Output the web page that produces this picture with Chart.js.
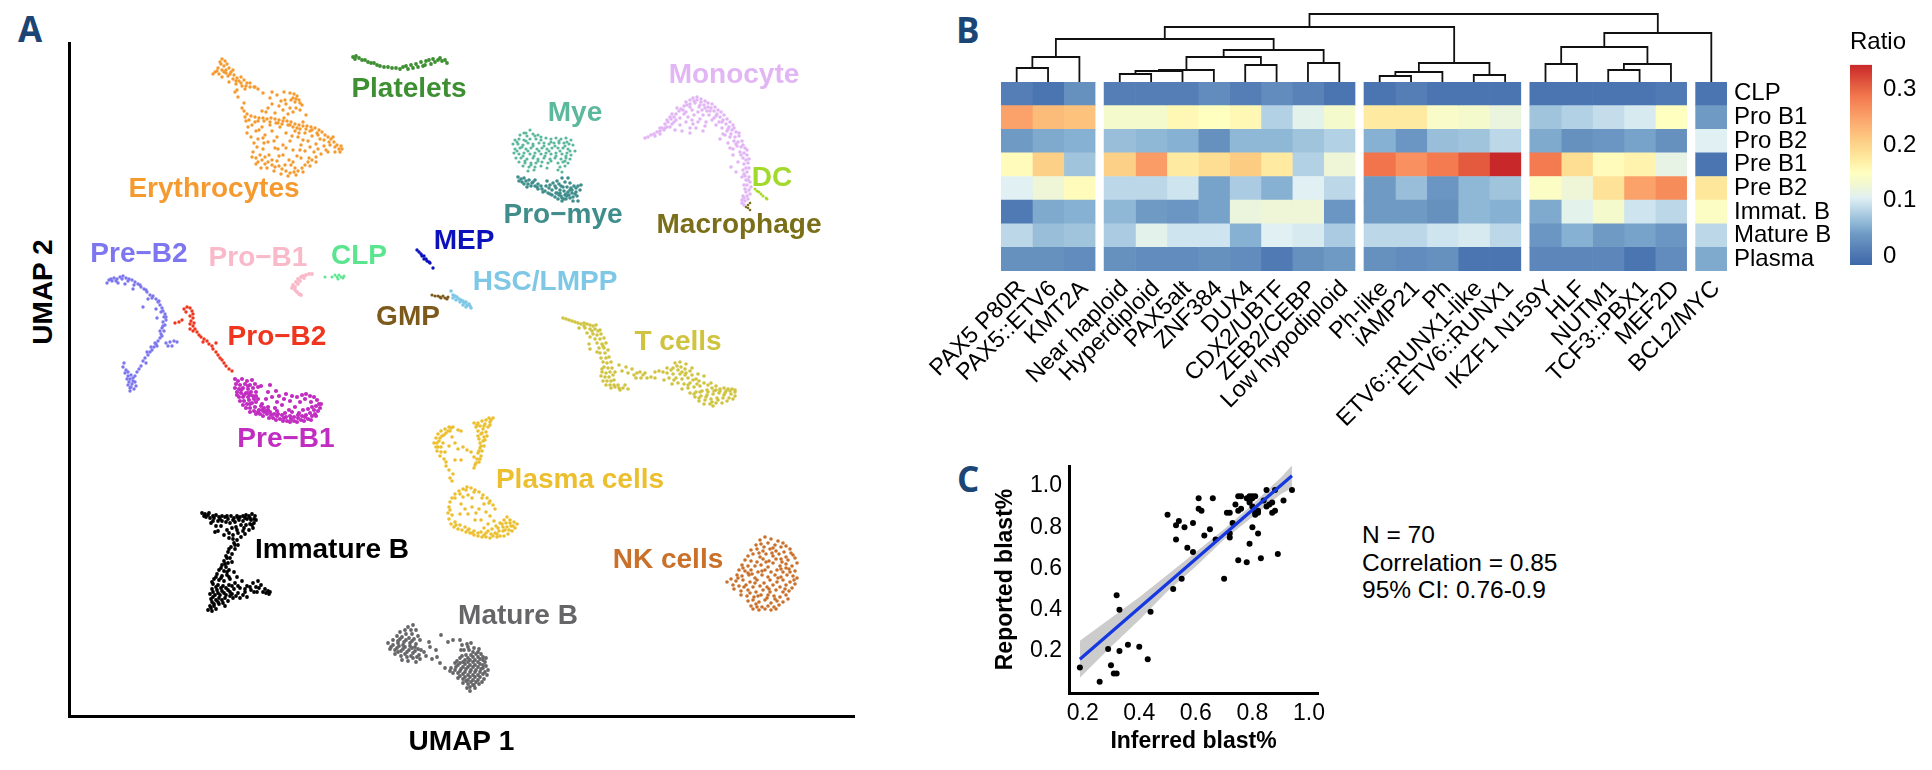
<!DOCTYPE html>
<html>
<head>
<meta charset="utf-8">
<title>UMAP, subtype heatmap and blast correlation</title>
<script src="https://cdn.jsdelivr.net/npm/chart.js@4/dist/chart.umd.min.js"></script>
<style>
  html, body { margin: 0; background: #fff; overflow: hidden; }
  canvas { position: absolute; left: 0; top: 0; }
  .note { position: absolute; font-family: "Liberation Sans", Arial, sans-serif; color: #000; white-space: nowrap; }
  .panel { font: bold 35px "Open Sans", sans-serif; color: #1b4574; line-height: 1; }
</style>
</head>
<body>
<div class="note panel" style="left:18px;top:11px">A</div>
<div class="note panel" style="left:956px;top:12px">B</div>
<div class="note panel" style="left:957px;top:461px">C</div>
<div class="note" style="left:43px;top:292px;font-weight:bold;font-size:28px;transform:translate(-50%,-50%) rotate(-90deg)">UMAP 2</div>
<div class="note" style="left:1362px;top:521px;font-size:24.5px;line-height:27.5px">N = 70<br>Correlation = 0.85<br>95% CI: 0.76-0.9</div>

<canvas id="umap" width="1932" height="770"></canvas>
<canvas id="dendro" width="1932" height="770"></canvas>
<canvas id="heat" width="1932" height="770"></canvas>
<canvas id="colorbar" width="1932" height="770"></canvas>
<canvas id="blast" width="1932" height="770"></canvas>

<script>
"use strict";

// Panel A: the UMAP has no ticks, so cells are kept in the units read off the picture
const erythrocytes = [[222,59],[225,61],[220,62],[227,64],[224,66],[218,68],[229,68],[222,70],[215,72],[213,74],[219,74],[226,73],[231,72],[234,75],[228,76],[222,77],[237,78],[241,77],[233,79],[239,81],[244,80],[229,82],[247,83],[236,84],[250,83],[242,86],[255,87],[237,90],[254,87],[258,89],[235,92],[238,97],[245,89],[263,93],[272,92],[277,95],[281,101],[272,104],[279,106],[268,108],[283,110],[275,113],[290,108],[270,98],[288,114],[300,110],[302,105],[294,94],[297,96],[293,98],[296,99],[299,100],[291,100],[295,102],[300,103],[242,108],[244,111],[247,114],[251,116],[255,117],[259,118],[263,118],[267,119],[271,118],[275,119],[279,120],[283,121],[287,121],[291,122],[295,124],[299,125],[303,126],[307,126],[311,127],[315,128],[319,130],[322,132],[325,135],[328,137],[331,139],[334,142],[337,145],[341,146],[339,149],[335,147],[342,149],[333,137],[329,142],[303,122],[284,118],[297,128],[290,125],[278,123],[310,131],[317,133],[306,115],[246,121],[248,127],[252,125],[247,133],[251,137],[256,131],[254,143],[258,139],[262,127],[265,135],[270,125],[268,142],[272,131],[277,137],[280,127],[283,145],[286,133],[290,141],[295,131],[293,150],[298,137],[301,145],[305,133],[308,141],[312,136],[316,144],[320,139],[324,146],[314,152],[305,151],[297,156],[309,158],[275,148],[263,149],[269,155],[283,155],[289,160],[253,152],[252,157],[256,158],[258,162],[262,160],[265,164],[268,162],[272,165],[275,167],[279,166],[282,169],[286,171],[290,173],[294,172],[298,171],[295,168],[302,168],[305,165],[308,162],[312,160],[316,157],[260,155],[277,161],[291,165],[221,64],[217,71],[224,72],[233,70],[236,81],[241,83],[226,70],[230,74],[246,86],[250,87],[258,121],[264,121],[270,122],[276,123],[282,124],[288,125],[293,127],[300,129],[306,129],[312,130],[318,135],[324,140],[330,145],[335,152],[326,150],[340,152],[245,117],[249,120],[255,122],[259,130],[263,138],[257,147],[264,143],[274,141],[278,149],[286,148],[292,136],[299,133],[303,140],[310,147],[318,149],[300,150],[301,158],[293,162],[285,165],[279,156],[272,160],[265,157],[256,164],[261,168],[267,168],[274,171],[281,174],[288,176],[296,175],[303,172],[310,166],[316,162],[321,154],[328,152],[244,103],[285,100],[284,92],[290,93],[286,104],[296,108],[293,112],[266,112],[262,111]];
const platelets = [[353,57],[356,56],[355,59],[359,58],[362,60],[365,60],[368,62],[371,63],[374,63],[377,65],[380,66],[384,67],[388,67],[392,68],[396,68],[400,69],[403,67],[406,66],[408,69],[411,65],[413,68],[416,64],[418,67],[421,62],[423,66],[426,61],[425,65],[429,60],[431,64],[433,59],[435,62],[438,60],[440,58],[442,61],[445,60],[447,63]];
const preB2 = [[107,283],[109,280],[112,281],[114,278],[117,279],[120,277],[123,276],[126,278],[129,279],[132,280],[135,282],[138,284],[141,287],[144,289],[147,292],[150,295],[153,296],[156,299],[158,302],[160,305],[162,308],[163,311],[165,314],[164,317],[166,320],[163,322],[165,325],[162,328],[164,331],[161,334],[160,338],[158,341],[156,344],[154,347],[157,346],[152,350],[150,352],[148,355],[145,358],[143,361],[146,363],[141,366],[139,369],[137,372],[135,376],[124,363],[123,367],[126,370],[125,373],[128,376],[130,379],[127,379],[133,378],[129,382],[132,384],[135,382],[131,387],[134,389],[130,391],[136,386],[118,283],[125,284],[133,289],[143,307],[148,299],[156,309],[170,342],[174,341],[177,342],[168,346],[172,346],[166,343],[157,318],[166,317],[163,326],[160,331],[162,336],[155,343],[151,347],[147,352],[128,372],[131,375],[128,385],[133,381],[130,388],[111,279],[116,281],[122,279],[128,281],[134,285],[140,285],[146,290],[152,298],[159,301],[161,312]];
const proB2 = [[175,323],[179,322],[182,320],[184,309],[187,307],[190,308],[192,311],[186,312],[193,314],[190,316],[193,318],[191,321],[194,323],[190,324],[193,326],[190,329],[195,329],[197,332],[193,331],[199,335],[201,337],[204,339],[203,342],[207,341],[209,344],[212,346],[216,343],[213,349],[216,352],[218,355],[220,358],[222,360],[224,363],[226,366],[229,369],[232,371]];
const preB1 = [[235,379],[238,381],[242,379],[247,381],[252,380],[236,384],[240,385],[245,384],[250,385],[255,384],[235,388],[239,389],[243,388],[248,389],[253,388],[258,387],[237,392],[241,393],[246,393],[251,392],[256,392],[239,397],[243,397],[248,397],[253,396],[240,401],[244,401],[249,400],[243,405],[247,404],[252,403],[246,408],[250,408],[255,407],[250,412],[254,411],[259,410],[256,414],[260,414],[264,412],[263,416],[267,414],[271,415],[269,418],[273,418],[277,416],[276,420],[280,419],[284,418],[283,421],[287,421],[291,419],[290,422],[294,421],[298,418],[297,422],[301,420],[305,417],[304,421],[308,419],[312,416],[311,420],[315,414],[318,411],[316,416],[320,408],[319,404],[317,400],[321,404],[314,397],[311,402],[310,396],[306,394],[305,399],[308,409],[302,395],[300,402],[303,410],[297,397],[295,407],[299,413],[292,396],[290,401],[289,410],[286,394],[284,399],[282,405],[285,413],[279,396],[277,402],[275,408],[272,397],[268,392],[266,399],[261,386],[270,385],[276,391],[262,404],[268,407],[258,412],[262,410],[266,411],[270,412],[274,414],[278,414],[282,415],[286,417],[290,416],[294,417],[298,415],[302,416],[306,415],[310,413],[314,410],[316,406],[312,407],[241,390],[237,395],[242,389],[248,386],[244,395],[250,395],[256,396],[248,393],[254,399],[258,399],[250,404],[256,402],[261,406],[264,408],[268,410],[277,411],[292,412]];
const proB1 = [[312,274],[309,274],[306,275],[303,276],[301,277],[304,278],[298,279],[300,281],[296,282],[298,284],[293,285],[295,287],[292,288],[295,290],[297,292],[299,294],[301,295]];
const clp = [[325,277],[332,277],[335,275],[337,277],[339,275],[341,277],[343,278],[338,279],[344,276]];
const mep = [[417,250],[419,252],[421,254],[422,256],[424,256],[424,259],[426,259],[427,261],[429,262],[430,263],[433,268]];
const hscLmpp = [[451,291],[453,295],[455,296],[453,298],[457,297],[459,299],[456,300],[461,300],[463,301],[460,302],[464,303],[466,302],[463,305],[467,305],[469,304],[470,306],[466,307],[471,308]];
const gmp = [[432,295],[435,296],[438,296],[440,297],[443,296],[441,298],[445,298],[448,297],[447,299]];
const mye = [[530,130],[524,133],[520,135],[527,136],[533,134],[538,135],[515,140],[519,139],[524,140],[530,139],[536,139],[541,137],[546,138],[551,139],[556,138],[561,139],[566,138],[571,140],[513,144],[518,144],[523,145],[528,143],[533,144],[539,143],[544,143],[549,144],[554,143],[559,143],[564,143],[569,144],[573,145],[515,149],[520,148],[526,149],[531,148],[537,149],[542,148],[547,149],[552,148],[558,148],[563,148],[568,149],[575,151],[514,153],[519,154],[524,153],[530,154],[535,153],[541,154],[546,153],[551,154],[556,153],[562,154],[567,153],[571,155],[516,158],[521,158],[527,159],[533,158],[538,159],[544,158],[550,159],[555,158],[561,159],[566,158],[570,159],[519,162],[525,163],[531,163],[536,163],[542,162],[548,163],[558,163],[563,162],[568,163],[523,166],[529,167],[535,167],[541,166],[547,168],[560,167],[565,166],[528,171],[534,170],[558,170],[562,172],[526,133],[535,136],[517,142],[526,141],[541,140],[551,142],[559,141],[567,142],[522,147],[533,146],[544,146],[555,146],[565,146],[517,151],[528,151],[539,151],[549,151],[560,151],[570,151],[523,156],[534,156],[545,156],[556,156],[566,156],[525,161],[538,161],[551,161],[565,161],[531,165]];
const proMye = [[518,177],[521,179],[519,181],[524,178],[526,181],[529,180],[524,184],[528,184],[532,183],[535,180],[531,186],[535,186],[538,184],[541,186],[538,189],[542,189],[546,186],[545,191],[549,188],[548,193],[552,190],[552,195],[556,193],[555,197],[559,195],[558,199],[562,198],[562,201],[566,199],[565,195],[560,190],[564,191],[568,192],[563,187],[567,187],[571,188],[569,195],[572,193],[576,192],[573,197],[577,196],[580,190],[574,186],[578,186],[581,185],[570,183],[565,182],[559,184],[562,178],[557,181],[568,178],[553,183],[547,181],[578,201],[570,190],[560,193],[566,194],[556,188],[522,182],[533,182],[527,187],[537,187],[543,192],[550,194],[557,193],[561,196],[567,196],[564,199],[570,198],[575,194],[572,190],[576,188],[561,186],[555,186],[550,185],[573,201]];
const monocyte = [[645,138],[648,137],[651,135],[654,134],[657,132],[660,131],[662,128],[664,130],[667,127],[665,124],[668,122],[671,119],[670,117],[674,117],[672,114],[676,114],[679,111],[677,108],[681,109],[684,106],[683,110],[687,105],[686,102],[690,104],[690,100],[694,101],[693,98],[697,100],[697,97],[701,99],[701,102],[700,105],[705,101],[704,105],[708,103],[708,107],[712,104],[711,108],[707,111],[715,107],[714,111],[718,110],[717,114],[721,112],[720,117],[724,115],[723,120],[727,119],[726,124],[730,122],[729,127],[733,125],[732,130],[736,132],[731,134],[735,137],[739,136],[734,141],[738,142],[742,141],[737,146],[741,147],[745,148],[740,152],[744,153],[747,155],[743,158],[746,160],[744,164],[748,163],[746,168],[743,170],[747,172],[745,176],[749,177],[746,180],[750,182],[747,185],[751,187],[749,190],[746,192],[750,194],[747,196],[744,198],[742,200],[745,201],[742,203],[744,205],[667,120],[674,122],[680,118],[686,112],[692,110],[698,112],[703,115],[680,125],[686,122],[692,120],[698,122],[706,122],[670,127],[675,130],[682,131],[690,128],[696,128],[703,131],[690,133],[712,120],[716,125],[722,128],[725,135],[720,139],[728,143],[733,155],[730,148],[738,162],[731,167],[736,172],[695,103],[699,107],[705,108],[710,111],[716,116],[722,122],[728,129],[734,128],[739,133],[730,137],[736,144],[743,145],[747,150],[741,155],[749,159],[749,168],[744,174],[742,177],[748,180],[744,185],[745,189],[748,199],[743,196],[676,120],[672,124],[665,128],[660,128],[655,136],[684,114],[690,107],[702,110],[694,115],[688,117],[709,115],[714,118],[719,122],[727,131],[723,134],[733,149],[693,124],[700,119],[705,126],[660,134]];
const dc = [[755,189],[757,191],[759,192],[761,194],[763,196],[766,198],[767,199]];
const macrophage = [[746,207],[748,205],[750,203],[748,208],[750,210]];
const tCells = [[563,318],[566,319],[569,320],[572,321],[575,322],[578,323],[581,324],[584,323],[587,324],[590,325],[593,326],[596,325],[579,328],[585,328],[590,329],[595,329],[598,331],[593,334],[597,335],[601,334],[587,333],[590,337],[595,339],[600,339],[604,338],[589,344],[597,343],[602,344],[606,343],[590,349],[599,348],[604,348],[600,353],[605,353],[601,358],[606,358],[609,357],[603,362],[607,363],[611,362],[604,367],[608,368],[612,368],[602,372],[606,373],[610,372],[601,376],[605,377],[609,377],[603,381],[607,381],[611,381],[606,385],[610,385],[614,385],[611,388],[615,387],[619,388],[623,388],[618,385],[628,389],[615,372],[619,365],[622,371],[626,367],[628,373],[632,369],[634,375],[637,373],[640,372],[643,375],[645,373],[641,378],[636,378],[647,378],[651,377],[655,378],[655,372],[659,371],[663,372],[667,373],[671,370],[667,368],[673,368],[677,366],[681,367],[685,369],[678,370],[673,374],[680,374],[686,373],[690,371],[692,375],[688,378],[682,379],[676,378],[669,378],[664,380],[672,384],[678,383],[684,384],[690,383],[696,379],[699,381],[682,389],[688,388],[694,387],[700,386],[704,383],[708,385],[690,393],[696,392],[702,391],[707,390],[712,388],[716,390],[720,389],[724,388],[728,389],[732,389],[735,392],[695,397],[701,396],[707,395],[713,394],[719,393],[725,393],[731,394],[735,396],[699,401],[705,400],[711,399],[717,398],[723,398],[729,398],[733,399],[704,404],[710,404],[716,403],[722,403],[713,406],[727,401],[584,326],[592,331],[600,330],[603,346],[597,352],[608,350],[602,369],[613,375],[614,380],[620,390],[625,385],[675,363],[680,362],[686,364],[692,368],[698,374],[674,380],[685,375],[693,380],[697,384],[704,376],[711,383],[716,386],[700,392],[706,397],[712,402],[718,400],[724,395],[730,391],[735,390],[708,392],[714,391],[720,391],[726,391],[699,398],[694,394],[688,385],[682,372]];
const plasmaCells = [[434,443],[436,438],[438,434],[441,431],[445,429],[449,427],[453,427],[436,447],[439,441],[442,436],[446,433],[450,431],[437,451],[441,447],[440,456],[445,452],[444,459],[449,446],[452,437],[458,430],[461,431],[455,443],[458,449],[446,462],[493,418],[489,418],[486,420],[482,421],[478,423],[474,423],[490,422],[485,424],[480,426],[476,427],[488,427],[483,429],[478,431],[486,432],[481,434],[484,437],[479,439],[487,436],[483,441],[480,443],[484,446],[480,448],[482,451],[478,453],[481,456],[477,459],[479,462],[475,465],[474,468],[467,450],[471,452],[463,447],[474,457],[455,460],[461,460],[446,466],[449,470],[453,474],[450,478],[452,481],[450,502],[452,498],[455,494],[459,491],[463,489],[467,487],[471,488],[475,490],[479,492],[483,495],[487,498],[490,501],[493,505],[495,509],[449,507],[448,513],[449,519],[451,524],[454,527],[458,529],[462,530],[466,532],[470,533],[474,535],[478,536],[482,537],[486,537],[490,538],[455,522],[460,525],[465,527],[469,529],[474,531],[463,497],[461,504],[468,495],[472,498],[465,509],[472,507],[468,514],[476,513],[460,514],[484,504],[479,509],[481,520],[475,520],[497,537],[500,536],[504,536],[508,534],[512,531],[515,528],[517,524],[514,522],[510,520],[507,517],[504,520],[500,523],[496,526],[492,529],[488,531],[484,528],[488,524],[494,521],[490,516],[486,512],[503,527],[507,527],[511,526],[499,531],[503,531],[495,533],[491,534],[486,533],[481,532],[498,528],[502,524],[506,523],[510,523],[513,526],[505,530],[509,530],[497,534],[493,536],[484,535],[478,533],[472,533],[468,530],[456,525],[452,515],[450,510],[455,498],[460,494],[466,490],[474,492],[482,498],[489,503],[491,420],[484,426],[477,425],[490,425],[482,433],[478,436],[485,440],[481,446],[479,451],[480,459],[476,463],[437,443],[440,438],[444,435],[448,431],[451,428],[438,447],[443,443],[441,452]];
const immatureB = [[202,513],[205,514],[208,515],[206,517],[210,518],[213,516],[216,515],[219,517],[222,516],[225,517],[228,519],[231,516],[234,518],[237,516],[240,517],[243,516],[246,515],[249,516],[252,514],[255,516],[254,519],[251,520],[247,519],[243,521],[239,520],[235,522],[230,523],[226,522],[222,521],[218,521],[213,521],[211,523],[216,526],[221,526],[254,523],[250,524],[246,525],[241,525],[236,527],[232,528],[227,530],[218,531],[224,535],[215,532],[253,528],[249,530],[243,531],[238,533],[233,535],[229,538],[245,534],[241,537],[237,540],[234,543],[238,545],[231,547],[235,549],[228,552],[232,554],[226,556],[230,558],[224,561],[228,563],[222,565],[226,567],[232,562],[219,570],[224,571],[229,570],[217,574],[222,576],[227,575],[234,572],[214,579],[219,580],[224,581],[230,579],[237,577],[213,584],[218,585],[223,586],[229,585],[235,583],[242,581],[212,589],[217,590],[222,591],[228,590],[234,589],[240,588],[247,586],[253,583],[258,581],[210,594],[215,595],[220,595],[226,595],[232,594],[238,593],[245,592],[251,590],[256,587],[261,585],[265,589],[268,591],[270,592],[263,592],[257,592],[247,597],[240,598],[233,598],[211,599],[216,600],[222,600],[228,601],[214,604],[219,604],[225,606],[211,608],[208,610],[212,611],[216,609],[204,516],[209,513],[214,518],[220,519],[227,516],[233,520],[238,518],[245,518],[250,518],[256,520],[252,525],[244,528],[237,530],[229,533],[233,539],[235,545],[229,549],[227,558],[225,564],[221,568],[227,572],[216,577],[221,578],[229,577],[212,582],[216,587],[221,588],[226,588],[232,586],[238,586],[245,589],[250,587],[254,592],[259,588],[266,593],[269,594],[213,592],[218,593],[224,593],[230,592],[236,596],[243,595],[213,597],[219,598],[225,598],[230,596],[212,602],[218,602],[223,603],[210,606],[214,606]];
const matureB = [[413,625],[408,627],[405,630],[411,630],[416,630],[400,632],[406,634],[412,634],[418,636],[397,636],[402,637],[409,638],[414,639],[420,640],[393,640],[398,641],[404,642],[410,643],[416,644],[388,643],[393,645],[399,646],[405,647],[412,648],[418,649],[424,652],[390,649],[395,650],[401,651],[407,652],[413,653],[419,655],[426,656],[395,654],[401,656],[407,657],[413,658],[420,659],[402,660],[408,661],[416,662],[429,642],[436,650],[441,635],[448,642],[453,640],[432,659],[440,663],[445,668],[450,671],[437,657],[430,647],[460,640],[462,645],[467,644],[471,643],[464,650],[469,650],[474,648],[479,649],[466,655],[471,655],[476,654],[481,654],[486,658],[460,658],[465,660],[470,660],[475,660],[480,659],[485,662],[455,663],[460,663],[465,664],[470,665],[475,665],[480,664],[486,666],[451,668],[456,667],[461,669],[466,669],[471,670],[476,670],[481,669],[488,670],[453,673],[458,673],[463,674],[468,675],[473,675],[478,675],[483,674],[487,675],[458,678],[463,679],[468,680],[473,680],[478,680],[484,679],[463,683],[468,684],[473,685],[479,684],[467,688],[470,691],[475,688],[398,643],[403,645],[410,646],[415,647],[391,647],[397,648],[403,649],[409,650],[415,651],[421,650],[398,652],[405,654],[411,656],[417,657],[400,639],[406,640],[412,641],[461,650],[468,647],[473,652],[478,652],[483,657],[462,656],[468,658],[473,657],[478,657],[483,660],[457,661],[463,662],[468,662],[473,662],[478,662],[483,665],[458,665],[463,667],[468,667],[473,667],[478,667],[483,668],[455,670],[460,671],[465,672],[470,672],[475,672],[480,672],[485,672],[460,676],[465,677],[470,677],[475,677],[480,677],[466,681],[471,682],[476,682],[482,682],[470,687],[474,685]];
const nkCells = [[760,540],[765,537],[771,539],[778,541],[783,543],[756,545],[761,544],[768,543],[775,545],[781,547],[786,546],[790,549],[751,550],[757,549],[763,551],[770,549],[776,551],[784,552],[791,553],[748,556],[753,554],[760,557],[766,554],[773,556],[779,554],[786,557],[793,555],[745,560],[751,561],[757,562],[763,559],[769,561],[776,559],[782,562],[788,560],[795,558],[742,565],[748,566],[755,566],[761,565],[768,567],[773,563],[780,566],[786,564],[792,566],[797,563],[739,570],[745,571],[751,570],[758,572],[765,570],[771,572],[777,570],[783,572],[789,569],[795,571],[737,575],[742,576],[749,575],[755,578],[762,575],[768,577],[775,575],[781,577],[787,575],[793,576],[797,578],[731,579],[736,581],[743,580],[750,582],[757,580],[764,583],[770,580],[777,582],[783,580],[790,582],[795,584],[727,582],[733,585],[739,586],[746,585],[753,587],[760,586],[767,587],[773,585],[780,587],[786,585],[792,588],[734,589],[741,591],[748,590],[756,592],[763,590],[770,592],[776,590],[783,592],[789,591],[741,595],[747,596],[754,597],[761,595],[767,598],[774,596],[780,597],[786,595],[748,601],[753,600],[759,602],[765,600],[771,603],[777,601],[783,602],[788,599],[751,606],[756,604],[762,607],[768,606],[774,607],[779,605],[753,609],[759,610],[765,609],[771,610],[776,609],[738,578],[744,587],[752,574],[766,562],[772,553],[781,559],[790,572],[769,589],[775,599],[758,596],[750,593],[785,589],[759,553],[764,547],[773,548],[748,573],[755,583],[762,571],[778,578],[786,568],[743,568],[794,580],[781,569],[768,595],[757,607]];

const clusterNames = ["Erythrocytes", "Platelets", "Pre\u2212B2", "Pro\u2212B2", "Pre\u2212B1", "Pro\u2212B1", "CLP", "MEP", "HSC/LMPP", "GMP", "Mye", "Pro\u2212mye", "Monocyte", "DC", "Macrophage", "T cells", "Plasma cells", "Immature B", "Mature B", "NK cells"];
const clusterCells = [erythrocytes, platelets, preB2, proB2, preB1, proB1, clp, mep, hscLmpp, gmp, mye, proMye, monocyte, dc, macrophage, tCells, plasmaCells, immatureB, matureB, nkCells];
const clusterColors = ["#f59a2e", "#3d8f32", "#7d76ee", "#f0351e", "#c12cc1", "#f9b9c9", "#5ae58e", "#0b12bc", "#7ec8e6", "#7c5a1c", "#5cb89c", "#3f8e8c", "#e2b6f4", "#a2d92b", "#7a6f18", "#cfc33f", "#ecbf2f", "#000000", "#666668", "#c9702a"];
const clusterDotSize = [1.7, 1.9, 1.7, 1.7, 2.1, 1.9, 1.5, 1.7, 1.8, 1.6, 1.6, 1.8, 1.8, 1.5, 1.3, 1.8, 1.8, 1.9, 1.9, 1.8];
const labelX = [214, 409, 139, 277, 286, 258, 359, 464, 545, 408, 575, 563, 734, 772, 739, 678, 580, 332, 518, 668];
const labelY = [189, 89, 254, 337, 439, 258, 256, 241, 282, 317, 113, 215, 75, 178, 225, 342, 480, 550, 616, 560];

// Panel B: ratio per cell type (rows) and subtype (columns), estimated from the colours
const rowLabels = ["CLP", "Pro B1", "Pro B2", "Pre B1", "Pre B2", "Immat. B", "Mature B", "Plasma"];
const colLabels = ["PAX5 P80R", "PAX5::ETV6", "KMT2A", "Near haploid", "Hyperdiploid", "PAX5alt", "ZNF384", "DUX4", "CDX2/UBTF", "ZEB2/CEBP", "Low hypodiploid", "Ph-like", "iAMP21", "Ph", "ETV6::RUNX1-like", "ETV6::RUNX1", "IKZF1 N159Y", "HLF", "NUTM1", "TCF3::PBX1", "MEF2D", "BCL2/MYC"];
const groupSizes = [3, 8, 5, 5, 1];
const ratioCLP = [.01, .00, .03, .01, .01, .01, .025, .01, .025, .015, .00, .00, .01, .00, .00, .00, .00, .00, .00, .00, .005, .00];
const ratioProB1 = [.25, .225, .22, .135, .135, .16, .15, .16, .08, .11, .135, .175, .175, .14, .135, .12, .07, .08, .09, .10, .15, .04];
const ratioProB2 = [.04, .05, .055, .065, .06, .055, .03, .06, .06, .07, .08, .055, .035, .065, .07, .085, .05, .03, .035, .045, .03, .105];
const ratioPreB1 = [.155, .205, .07, .205, .255, .175, .19, .21, .175, .08, .125, .29, .265, .285, .31, .345, .285, .19, .155, .165, .115, .00];
const ratioPreB2 = [.105, .125, .155, .085, .085, .095, .045, .075, .055, .105, .085, .04, .065, .035, .06, .07, .145, .125, .185, .25, .27, .18];
const ratioImmatB = [.005, .05, .055, .06, .04, .035, .045, .12, .125, .125, .035, .04, .04, .03, .06, .055, .05, .11, .135, .095, .085, .145];
const ratioMatureB = [.085, .065, .07, .075, .11, .095, .095, .055, .105, .10, .075, .085, .085, .095, .10, .085, .035, .055, .04, .045, .035, .085];
const ratioPlasma = [.03, .03, .025, .03, .025, .025, .03, .025, .005, .03, .04, .03, .025, .03, .00, .00, .02, .02, .02, .00, .025, .05];
const ratioRows = [ratioCLP, ratioProB1, ratioProB2, ratioPreB1, ratioPreB2, ratioImmatB, ratioMatureB, ratioPlasma];

// Colour key of the heatmap
const keyValues = [-.016, .04, .06, .085, .105, .13, .15, .18, .215, .25, .285, .31, .345];
const keyColors = ["#3d66a8", "#6f9ac4", "#8fb8d6", "#bcd7e8", "#e0f0f3", "#f2f8d0", "#ffffc0", "#fee79b", "#fdc77f", "#fba26a", "#f47b50", "#e35a3f", "#c9282a"];
const keyTicks = [0, .1, .2, .3];

// Dendrogram merges, numbered like R's hclust: negative is a leaf, positive an earlier merge
const mergeLeft = [-1, 1, -4, 3, 4, -8, 5, -10, 7, 2, -12, 11, -15, 12, 10, -17, -19, 17, 16, 19, 15];
const mergeRight = [-2, -3, -5, -6, -7, -9, 6, -11, 8, 9, -13, -14, -16, 13, 14, -18, -20, -21, 18, -22, 20];
const mergeHeight = [14, 25, 8, 11, 12, 17, 25, 19, 32, 43, 6, 10, 7, 19, 55, 18, 12, 18, 35, 49, 68];

// Panel C
const inferredBlast = [.19, .26, .29, .30, .31, .32, .32, .33, .33, .36, .40, .43, .44, .50, .52, .53, .53, .54, .55, .56, .57, .59, .59, .61, .61, .62, .63, .65, .66, .67, .70, .71, .72, .72, .72, .73, .74, .75, .76, .75, .76, .75, .78, .78, .79, .79, .79, .80, .81, .80, .80, .81, .82, .82, .82, .83, .84, .85, .85, .86, .87, .87, .88, .88, .89, .91, .94, .79, .80, .81];
const reportedBlast = [.12, .05, .21, .13, .09, .09, .47, .40, .20, .23, .22, .16, .39, .86, .50, .74, .81, .83, .55, .80, .70, .68, .82, .94, .89, .88, .76, .79, .94, .74, .55, .87, .87, .77, .75, .82, .91, .95, .95, .88, .89, .64, .63, .94, .95, .93, .72, .95, .95, .90, .80, .86, .87, .88, .77, .65, .93, .90, .98, .91, .92, .87, .88, .98, .67, .93, .98, .92, .94, .87];
const fitX = [.19, .94];
const fitY = [.16, 1.05];
const bandX = [.19, .3, .4, .5, .6, .7, .8, .9, .94];
const bandUpper = [.25, .36, .46, .57, .68, .79, .91, 1.04, 1.10];
const bandLower = [.07, .22, .35, .49, .61, .74, .85, .96, .99];
const blastTicks = [.2, .4, .6, .8, 1];

Chart.defaults.font.family = '"Liberation Sans", Arial, sans-serif';
Chart.defaults.color = "#000";
Chart.defaults.animation = false;
Chart.defaults.events = [];
Chart.defaults.plugins.legend.display = false;
Chart.defaults.plugins.tooltip.enabled = false;

// Column layout shared by the heatmap and the dendrogram
const groupGap = 0.287;
const colStart = [];
let cursor = 0;
groupSizes.forEach(function (size) {
    for (let i = 0; i < size; i++) {
        colStart.push(cursor);
        cursor += 1;
    }
    cursor += groupGap;
});
const colTotal = cursor - groupGap;
const colCenter = colStart.map(v => v + 0.5);

function hexToRgb(hex) {
    return [1, 3, 5].map(i => parseInt(hex.substr(i, 2), 16));
}

function heatColor(value) {
    let i = 0;
    while (i < keyValues.length - 2 && value > keyValues[i + 1]) i++;
    const t = Math.min(1, Math.max(0, (value - keyValues[i]) / (keyValues[i + 1] - keyValues[i])));
    const a = hexToRgb(keyColors[i]);
    const b = hexToRgb(keyColors[i + 1]);
    return "rgb(" + a.map((c, k) => Math.round(c + (b[k] - c) * t)).join(",") + ")";
}

// Writes the cluster names inside the UMAP
const clusterLabels = {
    id: "clusterLabels",
    afterDatasetsDraw: function (chart) {
        const ctx = chart.ctx;
        ctx.save();
        ctx.font = 'bold 28px "Liberation Sans", Arial, sans-serif';
        ctx.textAlign = "center";
        ctx.textBaseline = "middle";
        clusterNames.forEach(function (name, i) {
            ctx.fillStyle = clusterColors[i];
            ctx.fillText(name, chart.scales.x.getPixelForValue(labelX[i]), chart.scales.y.getPixelForValue(labelY[i]));
        });
        ctx.restore();
    },
};

new Chart(document.getElementById("umap"), {
    type: "scatter",
    data: {
        datasets: clusterNames.map((name, i) => ({
            label: name,
            data: clusterCells[i],
            backgroundColor: clusterColors[i],
            pointRadius: clusterDotSize[i],
            borderWidth: 0,
        })),
    },
    options: {
        responsive: false,
        layout: { padding: { left: 20, top: 43, right: 1078, bottom: 11 } },
        scales: {
            x: {
                type: "linear", min: 69, max: 854,
                grid: { display: false },
                border: { color: "#000", width: 3 },
                ticks: { display: false },
                title: { display: true, text: "UMAP 1", font: { size: 28, weight: "bold" }, padding: 0 },
                afterFit: s => { s.height = 43; },
            },
            y: {
                type: "linear", min: 43, max: 716, reverse: true,
                grid: { display: false },
                border: { color: "#000", width: 3 },
                ticks: { display: false },
                afterFit: s => { s.width = 49; },
            },
        },
    },
    plugins: [clusterLabels],
});

// Dendrogram: one small line per merge
function mergeLines() {
    const nodeX = [];
    const nodeH = [];
    function xOf(id) { return id < 0 ? colCenter[-id - 1] : nodeX[id - 1]; }
    function hOf(id) { return id < 0 ? 0 : nodeH[id - 1]; }
    return mergeLeft.map(function (left, i) {
        const right = mergeRight[i];
        const h = mergeHeight[i];
        const line = [
            { x: xOf(left), y: hOf(left) }, { x: xOf(left), y: h },
            { x: xOf(right), y: h }, { x: xOf(right), y: hOf(right) },
        ];
        nodeX.push((xOf(left) + xOf(right)) / 2);
        nodeH.push(h);
        return { data: line, showLine: true, pointRadius: 0, borderColor: "#111", borderWidth: 1.8, clip: false, tension: 0 };
    });
}

new Chart(document.getElementById("dendro"), {
    type: "scatter",
    data: { datasets: mergeLines() },
    options: {
        responsive: false,
        layout: { padding: { left: 1001, top: 10, right: 205, bottom: 688 } },
        scales: {
            x: { type: "linear", min: 0, max: colTotal, display: false },
            y: { type: "linear", min: 0, max: 72, display: false },
        },
    },
});

new Chart(document.getElementById("heat"), {
    type: "bar",
    data: {
        labels: rowLabels,
        datasets: colLabels.map((name, c) => ({
            label: name,
            data: ratioRows.map(() => [colStart[c], colStart[c] + 1]),
            backgroundColor: ratioRows.map(row => heatColor(row[c])),
            grouped: false,
            barPercentage: 1,
            categoryPercentage: 1,
            borderWidth: 0,
        })),
    },
    options: {
        indexAxis: "y",
        responsive: false,
        layout: { padding: { left: 1001, top: 82, right: 95, bottom: 329 } },
        scales: {
            x: {
                type: "linear", min: 0, max: colTotal,
                grid: { display: false, drawTicks: false },
                border: { display: false },
                afterBuildTicks: s => { s.ticks = colCenter.map(v => ({ value: v })); },
                ticks: {
                    autoSkip: false, minRotation: 45, maxRotation: 45, padding: 4, labelOffset: 5,
                    font: { size: 23.5 },
                    callback: (v, i) => colLabels[i],
                },
                afterFit: s => { s.height = 170; },
            },
            y: {
                position: "right",
                grid: { display: false, drawTicks: false },
                border: { display: false },
                ticks: { autoSkip: false, padding: 7, font: { size: 24 } },
                afterFit: s => { s.width = 110; },
            },
        },
    },
});

// Colour key, a single bar filled with the palette
function keyGradient(c) {
    const y = c.chart.scales.y;
    const lo = keyValues[0];
    const hi = keyValues[keyValues.length - 1];
    const top = y.getPixelForValue(hi);
    const bottom = y.getPixelForValue(lo);
    if (!isFinite(top) || !isFinite(bottom)) return keyColors[0]; // scale not laid out yet
    const g = c.chart.ctx.createLinearGradient(0, bottom, 0, top);
    keyValues.forEach((v, i) => g.addColorStop((v - lo) / (hi - lo), keyColors[i]));
    return g;
}

new Chart(document.getElementById("colorbar"), {
    type: "bar",
    data: {
        labels: ["Ratio"],
        datasets: [{
            data: [[keyValues[0], keyValues[keyValues.length - 1]]],
            backgroundColor: keyGradient,
            barPercentage: 1,
            categoryPercentage: 1,
            borderWidth: 0,
        }],
    },
    options: {
        responsive: false,
        layout: { padding: { left: 1850, top: 28, right: 0, bottom: 505 } },
        plugins: {
            title: { display: true, text: "Ratio", align: "start", font: { size: 24, weight: "normal" }, padding: { top: 0, bottom: 8 } },
        },
        scales: {
            x: { display: false },
            y: {
                type: "linear", position: "right", min: keyValues[0], max: keyValues[keyValues.length - 1],
                grid: { display: false, drawTicks: false },
                border: { display: false },
                afterBuildTicks: s => { s.ticks = keyTicks.map(v => ({ value: v })); },
                ticks: { padding: 11, font: { size: 24 }, callback: v => String(v) },
                afterFit: s => { s.width = 60; },
            },
        },
    },
});

new Chart(document.getElementById("blast"), {
    type: "scatter",
    data: {
        datasets: [
            { label: "Fit", data: fitX.map((x, i) => ({ x: x, y: fitY[i] })), showLine: true, pointRadius: 0, borderColor: "#1538e0", borderWidth: 3.2, order: 0, clip: false },
            { label: "Samples", data: inferredBlast.map((x, i) => ({ x: x, y: reportedBlast[i] })), backgroundColor: "#000", pointRadius: 3, borderWidth: 0, order: 1, clip: false },
            { label: "CI upper", data: bandX.map((x, i) => ({ x: x, y: bandUpper[i] })), showLine: true, pointRadius: 0, borderWidth: 0, fill: "+1", backgroundColor: "#cccccc", order: 2, clip: false },
            { label: "CI lower", data: bandX.map((x, i) => ({ x: x, y: bandLower[i] })), showLine: true, pointRadius: 0, borderWidth: 0, order: 3, clip: false },
        ],
    },
    options: {
        responsive: false,
        layout: { padding: { left: 992, top: 466, right: 614, bottom: 15 } },
        scales: {
            x: {
                type: "linear", min: .1516, max: 1.032,
                grid: { display: false, tickLength: 4, tickColor: "#000" },
                border: { color: "#000", width: 3 },
                afterBuildTicks: s => { s.ticks = blastTicks.map(v => ({ value: v })); },
                ticks: { padding: 3, font: { size: 23 }, callback: v => v.toFixed(1) },
                title: { display: true, text: "Inferred blast%", font: { size: 23, weight: "bold" }, padding: 0 },
                afterFit: s => { s.height = 62; },
            },
            y: {
                type: "linear", min: -.004, max: 1.097,
                grid: { display: false, tickLength: 4, tickColor: "#000" },
                border: { color: "#000", width: 3 },
                afterBuildTicks: s => { s.ticks = blastTicks.map(v => ({ value: v })); },
                ticks: { padding: 3, font: { size: 23 }, callback: v => v.toFixed(1) },
                title: { display: true, text: "Reported blast%", font: { size: 23, weight: "bold" }, padding: 0 },
                afterFit: s => { s.width = 77; },
            },
        },
    },
});
</script>
</body>
</html>
